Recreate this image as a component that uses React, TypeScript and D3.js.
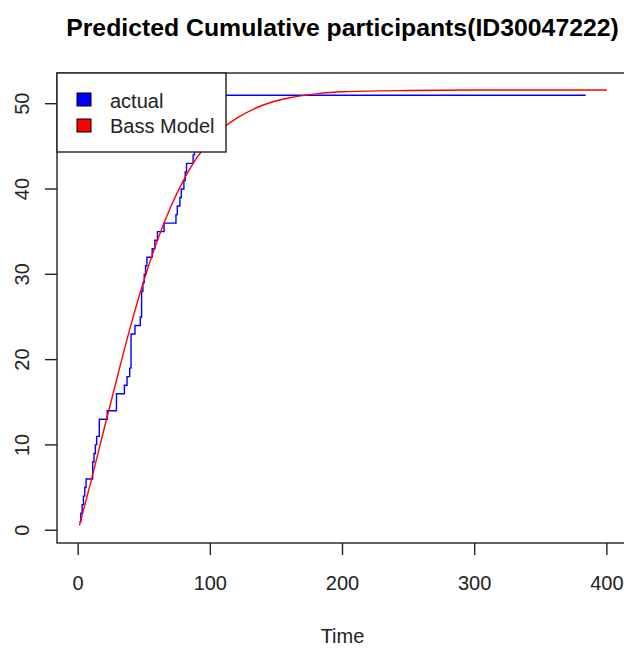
import React from "react";
import * as d3 from "d3";

const title = "Predicted Cumulative participants(ID30047222)";
const xLabel = "Time";
const xTicks = [0, 100, 200, 300, 400];
const yTicks = [0, 10, 20, 30, 40, 50];
const legendLabels = ["actual", "Bass Model"];

// actual cumulative participants (step series): time, value
const actualT = [1, 2, 3, 4, 5, 6, 11, 12, 13, 14, 16, 22, 29, 35, 37, 39, 40, 43, 47, 48, 49, 50, 51, 52, 56, 58, 60, 65, 74, 75, 77, 78, 80, 81, 82, 87, 88, 89, 90, 92, 94, 96, 100, 384];
const actualV = [1, 2, 3, 4, 5, 6, 8, 9, 10, 11, 13, 14, 16, 17, 18, 19, 23, 24, 25, 28, 29, 30, 31, 32, 33, 34, 35, 36, 37, 38, 39, 40, 41, 42, 43, 44, 45, 46, 47, 48, 49, 50, 51, 51];

// Bass model predictions
const bassT = [1, 10, 20, 30, 40, 50, 60, 70, 80, 90, 100, 110, 120, 140, 160, 180, 200, 250, 300, 350, 400];
const bassV = [0.57, 5.9, 12.1, 18.2, 24.1, 29.4, 34.0, 37.9, 41.1, 43.7, 45.6, 47.2, 48.3, 49.85, 50.7, 51.15, 51.4, 51.55, 51.6, 51.6, 51.6];

export default function App() {
  const W = 624, H = 648;
  const x = d3.scaleLinear().domain([-16, 416]).range([57, 628]);
  const y = d3.scaleLinear().domain([-1.5, 53.6]).range([543, 73]);
  const font = "Arial, 'Liberation Sans', sans-serif";

  const actual = actualT.map((t, i) => [t, actualV[i]] as [number, number]);
  const bass = bassT.map((t, i) => [t, bassV[i]] as [number, number]);

  const stepLine = d3.line<[number, number]>().x(d => x(d[0])).y(d => y(d[1])).curve(d3.curveStepAfter);
  const smoothLine = d3.line<[number, number]>().x(d => x(d[0])).y(d => y(d[1])).curve(d3.curveMonotoneX);

  const [x0, x1] = x.range();
  const [yb, yt] = y.range();

  return (
    <svg width={W} height={H} style={{ position: "absolute", left: 0, top: 0, background: "#fff" }} fontFamily={font}>
      <rect x={0} y={0} width={W} height={H} fill="#fff" />
      <text x={(x0 + x1) / 2} y={36} textAnchor="middle" fontWeight="bold" fontSize={24.8} fill="#000">{title}</text>
      <defs>
        <clipPath id="plotclip"><rect x={x0} y={yt} width={x1 - x0} height={yb - yt} /></clipPath>
      </defs>
      <g clipPath="url(#plotclip)">
        <path d={stepLine(actual) || ""} fill="none" stroke="#0000ff" strokeWidth={1.4} />
        <path d={smoothLine(bass) || ""} fill="none" stroke="#ff0000" strokeWidth={1.4} />
      </g>
      <rect x={x0} y={yt} width={x1 - x0} height={yb - yt} fill="none" stroke="#222" strokeWidth={1.4} />
      {xTicks.map(t => (
        <g key={"x" + t}>
          <line x1={x(t)} x2={x(t)} y1={yb} y2={yb + 12} stroke="#222" strokeWidth={1.4} />
          <text x={x(t)} y={590} textAnchor="middle" fontSize={20} fill="#222">{t}</text>
        </g>
      ))}
      {yTicks.map(t => (
        <g key={"y" + t}>
          <line x1={x0} x2={x0 - 12} y1={y(t)} y2={y(t)} stroke="#222" strokeWidth={1.4} />
          <text transform={`translate(29,${y(t)}) rotate(-90)`} textAnchor="middle" fontSize={20} fill="#222">{t}</text>
        </g>
      ))}
      <text x={(x0 + x1) / 2} y={643} textAnchor="middle" fontSize={20} fill="#222">{xLabel}</text>
      <g>
        <rect x={x0} y={yt} width={226 - x0} height={152 - yt} fill="#fff" stroke="#222" strokeWidth={1.4} />
        <rect x={77} y={93} width={14} height={13} fill="#0000ff" stroke="#000" strokeWidth={1} />
        <rect x={77} y={119} width={14} height={13} fill="#ff0000" stroke="#000" strokeWidth={1} />
        <text x={110} y={108} fontSize={20} fill="#222">{legendLabels[0]}</text>
        <text x={110} y={133} fontSize={20} fill="#222">{legendLabels[1]}</text>
      </g>
    </svg>
  );
}
